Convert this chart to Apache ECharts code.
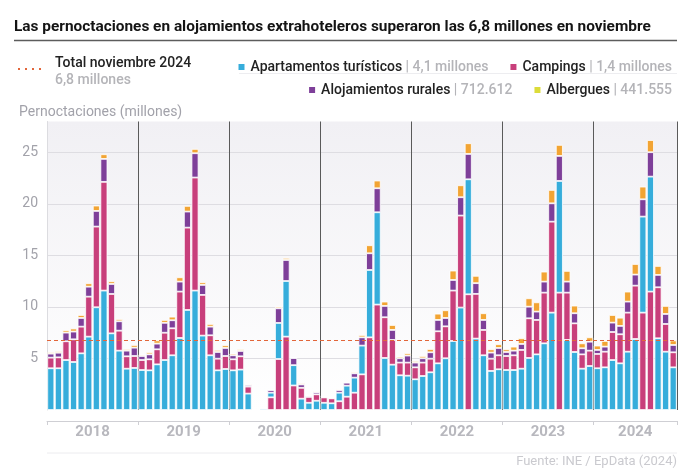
<!DOCTYPE html>
<html><head><meta charset="utf-8">
<script src="https://cdn.jsdelivr.net/npm/echarts@6/dist/echarts.min.js"></script>
<style>html,body{margin:0;padding:0;background:#fff}#c{width:690px;height:474px}</style>
</head><body><div id="c"></div>
<script>
const years = ['2018','2019','2020','2021','2022','2023','2024'];
const monthNames = ['ene','feb','mar','abr','may','jun','jul','ago','sep','oct','nov','dic'];
const seriesNames = ['Apartamentos turísticos','Campings','Alojamientos rurales','Albergues'];
const legendValues = ['4,1 millones','1,4 millones','712.612','441.555'];
const yTicks = [5,10,15,20,25];

const apartamentos = [
 4.05,4.05,4.85,4.66,5.50,7.12,9.97,11.59,7.44,5.76,4.01,4.08,
 3.88,3.85,4.43,4.85,5.31,6.99,9.71,11.59,7.22,5.31,3.85,3.98,
 3.85,3.92,1.59,0,0.15,0.45,3.50,5.40,1.97,1.10,0.70,0.90,
 0.70,0.65,0.83,1.07,1.46,2.79,6.54,8.96,5.05,4.40,3.37,3.33,
 2.98,3.30,3.66,4.53,5.02,6.70,9.94,11.16,6.93,5.31,3.79,3.95,
 3.88,3.88,4.01,5.05,5.40,6.47,9.45,10.84,6.80,5.63,4.01,4.27,
 4.05,4.14,4.85,4.53,5.66,6.89,9.32,11.16,6.96,5.66,4.14
];
const campings = [
 1.03,1.06,1.82,2.20,2.59,3.88,7.83,10.55,3.82,1.94,1.20,1.16,
 0.97,1.07,1.46,2.65,2.62,4.50,7.99,10.97,3.95,1.94,1.13,1.26,
 1.07,1.29,0.68,0,0.03,1.23,4.95,7.12,2.38,1.05,0.57,0.62,
 0.52,0.48,0.85,1.29,1.68,3.46,7.05,10.23,3.95,2.40,1.23,1.27,
 1.16,1.30,1.32,3.11,3.10,4.89,8.93,11.23,4.34,2.46,1.19,1.36,
 1.36,1.43,1.82,3.85,3.34,4.92,8.83,11.39,4.59,2.78,1.39,1.49,
 1.39,1.52,2.72,2.82,3.79,5.18,9.45,11.49,4.95,2.69,1.46
];
const rurales = [
 0.39,0.45,0.84,0.75,0.84,0.97,1.52,2.23,0.97,0.91,0.55,0.81,
 0.39,0.48,0.55,0.96,0.78,0.97,1.56,2.36,0.97,0.84,0.65,0.78,
 0.39,0.52,0.16,0,0.02,0.26,1.42,2.04,0.70,0.33,0.12,0.20,
 0.08,0.06,0.26,0.29,0.42,0.80,1.62,2.33,1.10,0.97,0.42,0.68,
 0.46,0.42,0.62,1.10,0.81,1.03,1.78,2.46,1.04,0.97,0.59,0.71,
 0.39,0.45,0.58,1.13,0.81,1.07,1.78,2.43,1.07,0.98,0.59,0.87,
 0.39,0.49,0.91,0.81,1.07,1.07,1.68,2.37,1.20,0.97,0.71
];
const albergues = [
 0.13,0.16,0.23,0.30,0.29,0.33,0.52,0.45,0.26,0.22,0.16,0.26,
 0.13,0.20,0.32,0.28,0.35,0.42,0.55,0.42,0.25,0.26,0.20,0.26,
 0.16,0.16,0.10,0,0.02,0.05,0.16,0.20,0.02,0.12,0.05,0.09,
 0.05,0.04,0.10,0.07,0.13,0.23,0.78,0.75,0.42,0.48,0.16,0.22,
 0.16,0.22,0.32,0.61,0.75,0.91,1.16,1.04,0.71,0.65,0.32,0.36,
 0.26,0.39,0.55,0.81,0.90,0.97,1.30,1.07,1.04,0.74,0.48,0.42,
 0.42,0.55,0.74,0.80,0.97,1.03,1.23,1.18,0.87,0.78,0.44
];
const totalNov2024 = 6.8;

const months = [];
years.forEach(y => monthNames.forEach(m => months.push(m + ' ' + y)));
months.length = apartamentos.length;

const colors = ['#36addb', '#c83f7b', '#7e3f99', '#f2a433'];
const legendColors = ['#36addb', '#c83f7b', '#7e3f99', '#dcdc3a'];

// the larger of apartamentos / campings sits at the bottom of each bar
const aptBottom = apartamentos.map((v, i) => v >= campings[i] ? v : '-');
const campBottom = campings.map((v, i) => v > apartamentos[i] ? v : '-');
const aptTop = apartamentos.map((v, i) => v >= campings[i] ? '-' : v);
const campTop = campings.map((v, i) => v > apartamentos[i] ? '-' : v);

const FONT = 'Roboto';
function barSeries(name, data, color, extra) {
  return Object.assign({
    name, type: 'bar', stack: 'total', data,
    xAxisIndex: 0, yAxisIndex: 0,
    barWidth: 7,
    itemStyle: { color, borderColor: '#ffffff', borderWidth: 0.8 },
    emphasis: { disabled: true },
    animation: false
  }, extra || {});
}

const yearTickValues = [];
const yearLabelValues = [];
years.forEach((y, k) => {
  yearTickValues.push(k * 12);
  const end = Math.min((k + 1) * 12, months.length);
  yearLabelValues.push((k * 12 + end) / 2);
});
yearTickValues.push(months.length);

const legendText = {};
seriesNames.forEach((n, i) => legendText[n] = legendValues[i]);
const legendCommon = {
  right: 13, itemWidth: 8, itemHeight: 8, icon: 'rect', itemGap: 20,
  selectedMode: false,
  formatter: n => '{n|' + n + '}{s| | ' + legendText[n] + '}',
  textStyle: {
    rich: {
      n: { fontFamily: FONT, fontSize: 14, fontWeight: 500, color: '#222222' },
      s: { fontFamily: FONT, fontSize: 14, fontWeight: 500, color: '#b4b4b8' }
    }
  }
};

const chart = echarts.init(document.getElementById('c'), null, { renderer: 'canvas' });
chart.setOption({
  animation: false,
  textStyle: { fontFamily: FONT },
  grid: {
    left: 47, right: 13, top: 121.5, bottom: 64, show: true, borderWidth: 0,
    backgroundColor: {
      type: 'linear', x: 0, y: 0, x2: 0, y2: 1,
      colorStops: [{ offset: 0, color: '#f1f0f4' }, { offset: 1, color: '#ffffff' }]
    }
  },
  legend: [
    Object.assign({ top: 55, data: seriesNames.slice(0, 2).map((n, i) => ({ name: n, itemStyle: { color: legendColors[i] } })) }, legendCommon),
    Object.assign({ top: 78, data: seriesNames.slice(2).map((n, i) => ({ name: n, itemStyle: { color: legendColors[i + 2] } })) }, legendCommon)
  ],
  xAxis: [
    {
      type: 'category', data: months, boundaryGap: true,
      axisLine: { show: false }, axisTick: { show: false }, axisLabel: { show: false },
      splitLine: {
        show: true,
        interval: (idx) => idx > 0 && idx % 12 === 0,
        lineStyle: { color: '#5a5a5a', width: 1 }
      }
    },
    {
      type: 'value', min: 0, max: months.length, position: 'bottom', offset: 11,
      axisLine: { show: true, lineStyle: { color: '#cfcfd4', width: 1 } },
      axisTick: { show: true, customValues: yearTickValues, length: 4, lineStyle: { color: '#cfcfd4' } },
      axisLabel: {
        show: true, customValues: yearLabelValues, margin: 4,
        formatter: v => years[yearLabelValues.indexOf(v)] || '',
        fontFamily: FONT, fontSize: 15, fontWeight: 'bold', color: '#b8b8be'
      },
      splitLine: { show: false }
    }
  ],
  yAxis: {
    type: 'value', min: 0, max: 28, interval: 5,
    axisLine: { show: true, lineStyle: { color: '#dcdce0' } },
    axisTick: { show: false },
    axisLabel: {
      margin: 9, fontFamily: FONT, fontSize: 14, color: '#a2a2aa',
      formatter: v => yTicks.indexOf(v) >= 0 ? String(v) : ''
    },
    splitLine: { show: true, showMinLine: false, showMaxLine: false, lineStyle: { color: '#dedde2', width: 1 } }
  },
  series: [
    barSeries(seriesNames[0], aptBottom, colors[0]),
    barSeries(seriesNames[1], campBottom, colors[1]),
    barSeries(seriesNames[0], aptTop, colors[0]),
    barSeries(seriesNames[1], campTop, colors[1]),
    barSeries(seriesNames[2], rurales, colors[2]),
    barSeries(seriesNames[3], albergues, colors[3], {
      markLine: {
        silent: true, symbol: 'none', label: { show: false },
        lineStyle: { color: '#e2663a', type: [4, 3], width: 1 },
        data: [{ yAxis: totalNov2024 }]
      }
    })
  ],
  graphic: [
    { type: 'text', x: 14, y: 27, style: { text: 'Las pernoctaciones en alojamientos extrahoteleros superaron las 6,8 millones en noviembre', font: 'bold 15.4px Roboto', fill: '#141414', verticalAlign: 'middle', textVerticalAlign: 'middle' } },
    { type: 'line', shape: { x1: 14, y1: 40.5, x2: 677, y2: 40.5 }, style: { stroke: '#5c5c5c', lineWidth: 1.5 } },
    { type: 'line', shape: { x1: 18, y1: 69, x2: 45, y2: 69 }, style: { stroke: '#e2663a', lineWidth: 2, lineDash: [2, 5] } },
    { type: 'text', x: 55, y: 63, style: { text: 'Total noviembre 2024', font: '500 14px Roboto', fill: '#222222', verticalAlign: 'middle', textVerticalAlign: 'middle' } },
    { type: 'text', x: 55, y: 80, style: { text: '6,8 millones', font: '500 14px Roboto', fill: '#b4b4b8', verticalAlign: 'middle', textVerticalAlign: 'middle' } },
    { type: 'line', shape: { x1: 239, y1: 73.5, x2: 677, y2: 73.5 }, style: { stroke: '#ededf0', lineWidth: 1 } },
    { type: 'text', x: 19, y: 112, style: { text: 'Pernoctaciones (millones)', font: '14px Roboto', fill: '#a2a2aa', verticalAlign: 'middle', textVerticalAlign: 'middle' } },
    { type: 'line', shape: { x1: 47, y1: 453, x2: 677, y2: 453 }, style: { stroke: '#ececef', lineWidth: 1 } },
    { type: 'text', x: 677, y: 462, style: { text: 'Fuente: INE / EpData (2024)', font: '13px Roboto', fill: '#cacacf', align: 'right', textAlign: 'right', verticalAlign: 'middle', textVerticalAlign: 'middle' } }
  ]
});
</script>
</body></html>
